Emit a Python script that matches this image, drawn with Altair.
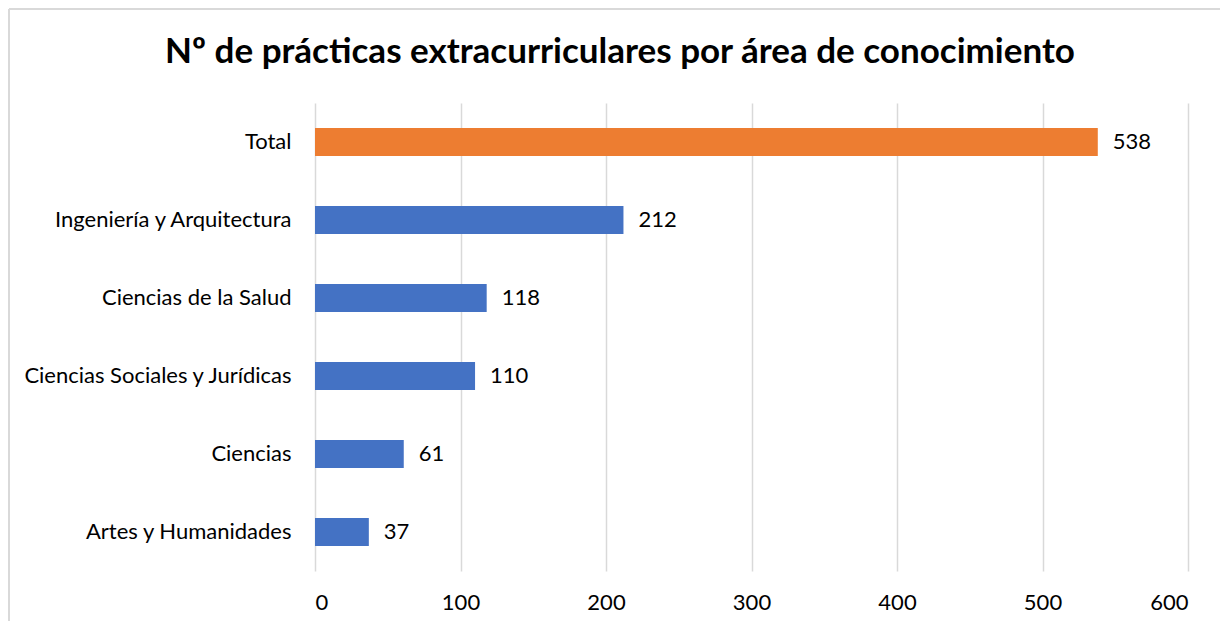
import altair as alt
import pandas as pd

categories = ["Total", "Ingeniería y Arquitectura", "Ciencias de la Salud",
              "Ciencias Sociales y Jurídicas", "Ciencias", "Artes y Humanidades"]
values = [538, 212, 118, 110, 61, 37]
colors = ["#ED7D31", "#4472C4", "#4472C4", "#4472C4", "#4472C4", "#4472C4"]
x_ticks = [0, 100, 200, 300, 400, 500, 600]
title_text = "Nº de prácticas extracurriculares por área de conocimiento"

df = pd.DataFrame({"cat": categories, "val": values, "col": colors})

FONT = "Lato"
FS = 22

base = alt.Chart(df)

bars = base.mark_bar().encode(
    y=alt.Y("cat:N", sort=categories, title=None,
            scale=alt.Scale(paddingInner=0.64, paddingOuter=0.32),
            axis=alt.Axis(labelFont=FONT, labelFontSize=FS, labelColor="#000000",
                          labelPadding=24, ticks=False, domain=False, grid=False,
                          labelLimit=400)),
    x=alt.X("val:Q", title=None,
            scale=alt.Scale(domain=[0, 600], nice=False),
            axis=alt.Axis(values=x_ticks, labelFont=FONT, labelFontSize=FS,
                          labelColor="#000000", labelPadding=21, ticks=False,
                          domain=False, grid=True, gridColor="#d9d9d9",
                          gridWidth=1.5)),
    color=alt.Color("col:N", scale=None),
)

labels = base.mark_text(align="left", baseline="middle", dx=15,
                        font=FONT, fontSize=FS, color="#000000").encode(
    y=alt.Y("cat:N", sort=categories),
    x=alt.X("val:Q"),
    text=alt.Text("val:Q"),
)

frame_top = alt.Chart(pd.DataFrame({"a": [0]})).mark_rule(
    stroke="#d9d9d9", strokeWidth=2, clip=False
).encode(
    x=alt.value(-306), x2=alt.value(930), y=alt.value(-94),
)
frame_left = alt.Chart(pd.DataFrame({"a": [0]})).mark_rule(
    stroke="#d9d9d9", strokeWidth=2, clip=False
).encode(
    x=alt.value(-306), y=alt.value(-94), y2=alt.value(560),
)

title = alt.Chart(pd.DataFrame({"t": [title_text]})).mark_text(
    font=FONT, fontSize=35, fontWeight="bold", color="#000000",
    align="center", baseline="middle", clip=False
).encode(
    text="t:N", x=alt.value(305), y=alt.value(-51),
)

chart = alt.layer(frame_top, frame_left, bars, labels, title).properties(
    width=873, height=468,
    padding={"left": 307, "top": 95, "right": 32, "bottom": 50},
    autosize=alt.AutoSizeParams(type="none"),
).configure(background="white").configure_view(stroke=None)

chart.save("out.html", embed_options={"renderer": "svg", "actions": False})
